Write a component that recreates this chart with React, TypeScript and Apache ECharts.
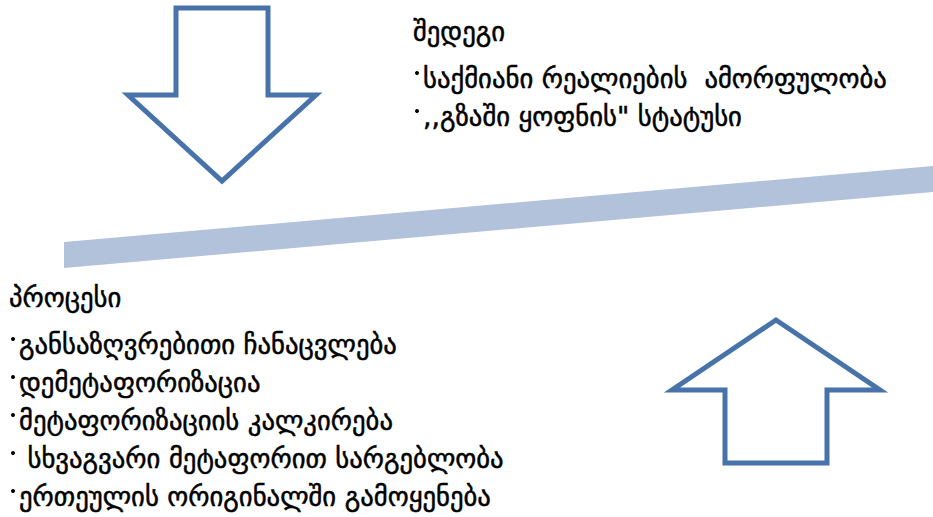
import React, { useEffect, useRef } from "react";
import * as echarts from "echarts";

const resultTitle = "შედეგი";
const resultItems = ["საქმიანი რეალიების  ამორფულობა", ",,გზაში ყოფნის\" სტატუსი"];
const processTitle = "პროცესი";
const processItems = [
  "განსაზღვრებითი ჩანაცვლება",
  "დემეტაფორიზაცია",
  "მეტაფორიზაციის კალკირება",
  " სხვაგვარი მეტაფორით სარგებლობა",
  "ერთეულის ორიგინალში გამოყენება",
];

const FONT = "DejaVu Sans";
const FS = 26.7;
const ARROW = "#4773AA";
const BAR = "#B3C2DB";

function textStyle(t: string) {
  return {
    text: t,
    fontFamily: FONT,
    fontSize: FS,
    fill: "#000",
    stroke: "#000",
    lineWidth: 0.5,
    verticalAlign: "middle",
  };
}

function textLines(title: string, items: string[], x: number, y0: number, step: number) {
  const els: any[] = [];
  els.push({ type: "text", x: x, y: y0, style: textStyle(title) });
  items.forEach((t, i) => {
    const y = y0 + step * (i + 1) + 9;
    els.push({
      type: "circle",
      shape: { cx: x + 4, cy: y - 5, r: 2 },
      style: { fill: "#000" },
    });
    els.push({ type: "text", x: x + 10, y: y, style: textStyle(t) });
  });
  return els;
}

export default function App() {
  const ref = useRef<HTMLDivElement>(null);
  useEffect(() => {
    document.body.style.margin = "0";
    const chart = echarts.init(ref.current!, null, { renderer: "svg" });
    const graphic: any[] = [
      {
        type: "polygon",
        shape: { points: [[64, 242], [933, 166], [933, 192], [64, 268]] },
        style: { fill: BAR },
      },
      {
        type: "polygon",
        shape: {
          points: [[176, 8], [268, 8], [268, 95], [316, 95], [222, 181], [128, 95], [176, 95]],
        },
        style: { fill: "#fff", stroke: ARROW, lineWidth: 5, lineJoin: "miter" },
      },
      {
        type: "polygon",
        shape: {
          points: [[776, 320], [880, 390], [827, 390], [827, 463], [725, 463], [725, 390], [672, 390]],
        },
        style: { fill: "#fff", stroke: ARROW, lineWidth: 5, lineJoin: "miter" },
      },
      ...textLines(resultTitle, resultItems, 413, 31, 38),
      ...textLines(processTitle, processItems, 9, 297, 38),
    ];
    chart.setOption({ animation: false, graphic });
    return () => chart.dispose();
  }, []);
  return <div ref={ref} style={{ width: 933, height: 517 }} />;
}
